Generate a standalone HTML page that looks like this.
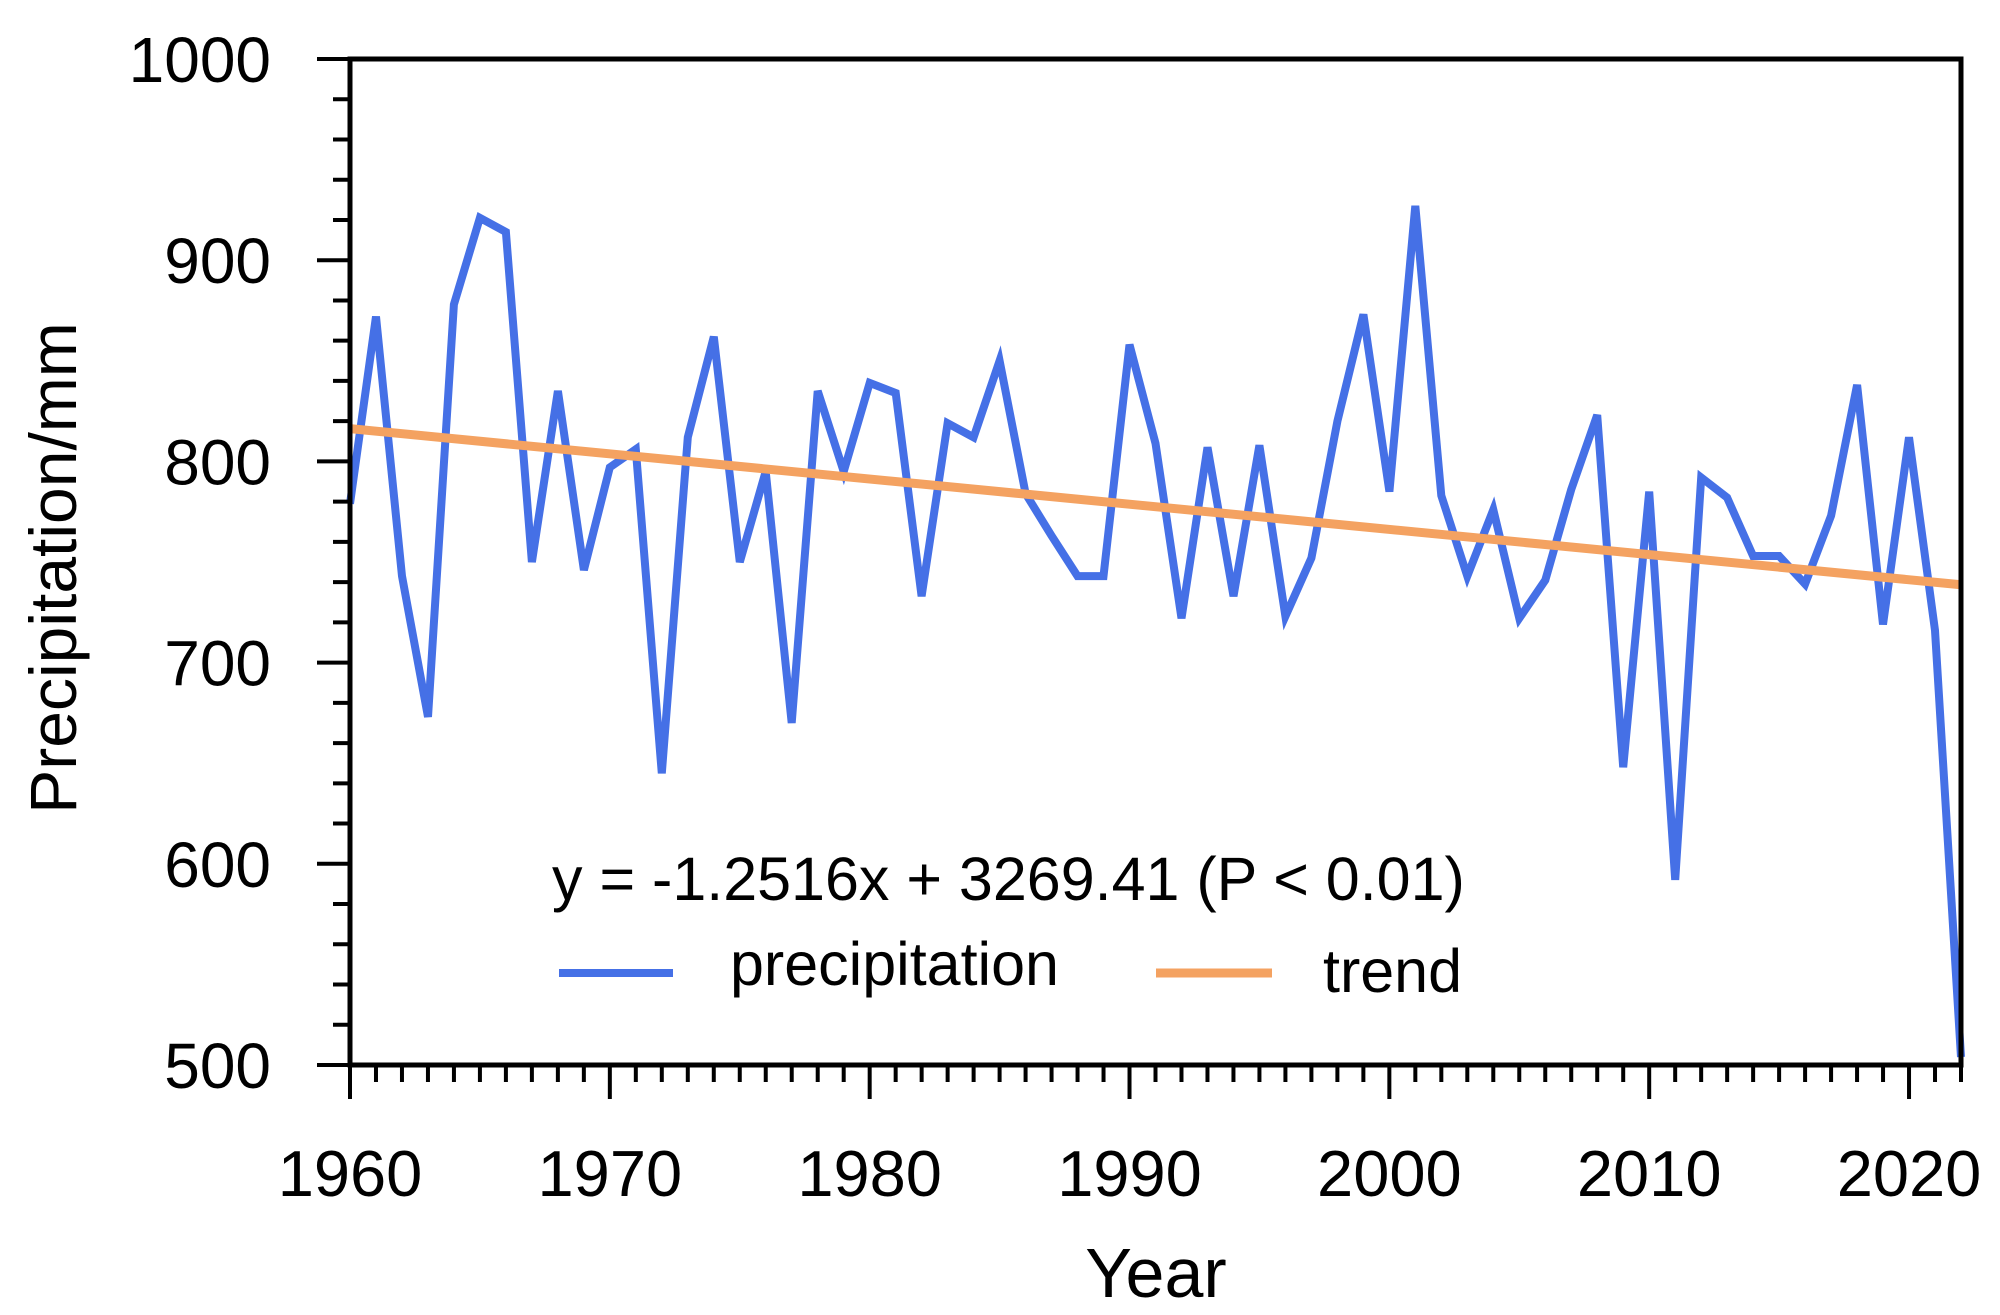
<!DOCTYPE html>
<html><head><meta charset="utf-8"><style>
html,body{margin:0;padding:0;background:#fff;}
svg{display:block;font-family:"Liberation Sans",Arial,sans-serif;}
</style></head><body>
<svg id="chart" width="2000" height="1315" viewBox="0 0 2000 1315" xmlns="http://www.w3.org/2000/svg">
<g id="grid"></g>
<g id="marks"></g>
<g id="axes"></g>
<text x="0" y="0" transform="translate(76,568) rotate(-90)" text-anchor="middle" font-size="66">Precipitation/mm</text>
<text x="1156" y="1297" text-anchor="middle" font-size="70">Year</text>
<text x="552" y="900" font-size="61">y = -1.2516x + 3269.41 (P &lt; 0.01)</text>
<g>
<line x1="559" y1="973" x2="673" y2="973" stroke="#4570E6" stroke-width="8"/>
<text x="730" y="985" font-size="61">precipitation</text>
<line x1="1156" y1="973" x2="1272" y2="973" stroke="#F4A261" stroke-width="9"/>
<text x="1323" y="992" font-size="61">trend</text>
</g>
</svg>
<script>
const years = [];
for (let y = 1960; y <= 2022; y++) years.push(y);
const precipitation = [779,872,743,673,878,921,914,750,835,746,797,806,645,812,862,750,795,670,835,795,839,834,733,819,812,850,784,763,743,743,858,809,722,807,733,808,723,752,820,873,785,927,783,743,776,722,741,786,823,648,785,592,792,782,753,753,739,773,838,719,812,716,504];
const trendSlope = -1.2516;
const trendIntercept = 3269.41;
const yTicks = [500,600,700,800,900,1000];
const xTicks = [1960,1970,1980,1990,2000,2010,2020];

const L=350,R=1961,T=59,B=1065;
const xs = y => L + (y-1960)*(R-L)/62;
const ys = v => B - (v-500)*(B-T)/500;
const NS="http://www.w3.org/2000/svg";
function mk(tag, attrs, parent){const e=document.createElementNS(NS,tag);for(const k in attrs)e.setAttribute(k,attrs[k]);parent.appendChild(e);return e;}
const marks=document.getElementById('marks'), axes=document.getElementById('axes');

const pts = years.map((y,i)=>xs(y).toFixed(1)+','+ys(precipitation[i]).toFixed(1)).join(' ');
const pl = mk('polyline',{points:pts,fill:'none',stroke:'#4570E6','stroke-width':8,'stroke-linejoin':'miter'},marks);



const t0=years[0], t1=years[years.length-1];
const tl = mk('line',{x1:xs(t0),y1:ys(trendSlope*t0+trendIntercept),x2:xs(t1),y2:ys(trendSlope*t1+trendIntercept),stroke:'#F4A261','stroke-width':9},marks);



const frame = mk('rect',{x:L,y:T,width:R-L,height:B-T,fill:'none',stroke:'#000','stroke-width':5},axes);



for(let v=500; v<=1000; v+=20){
  const major = v%100===0;
  const tk = mk('line',{x1:L-(major?33:17),x2:L,y1:ys(v),y2:ys(v),stroke:'#000','stroke-width':4},axes);
  
  
}
yTicks.forEach(v=>{
  const t=mk('text',{x:271,y:ys(v)+23,'text-anchor':'end','font-size':64},axes);
  t.textContent=v;
  
  
});
for(let y=1960;y<=2022;y++){
  const major=y%10===0;
  const tk=mk('line',{x1:xs(y),x2:xs(y),y1:B,y2:B+(major?34:17),stroke:'#000','stroke-width':4},axes);
  
  
}
xTicks.forEach(y=>{
  const t=mk('text',{x:xs(y),y:1196,'text-anchor':'middle','font-size':65},axes);
  t.textContent=y;
  
  
});
</script>
</body></html>
